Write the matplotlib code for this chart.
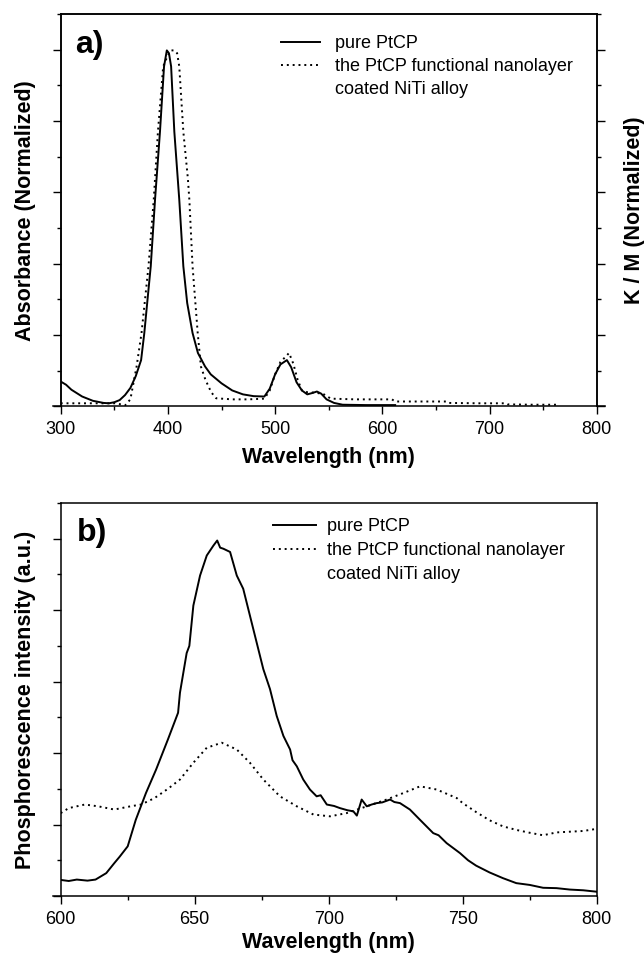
import matplotlib
matplotlib.use("Agg")
import matplotlib.pyplot as plt
from matplotlib.lines import Line2D
from matplotlib.ticker import MultipleLocator

plt.rcParams['font.family'] = ['Liberation Sans', 'DejaVu Sans']

# ---- panel a: absorbance / K-M spectra ----
wl_a_pure = [300, 305, 310, 320, 330, 340, 345, 350, 355, 360, 365, 370, 375, 378, 381, 384,
             388, 392.6, 396.4, 399, 401, 403, 406, 410.6, 414.4, 418, 423, 428, 434.7, 440,
             450, 460, 470, 480, 490, 495, 500, 505, 511, 515, 520, 525, 530, 535, 539, 543,
             548, 555, 563, 585, 612]
abs_a_pure = [0.070, 0.061, 0.047, 0.028, 0.016, 0.010, 0.009, 0.012, 0.018, 0.032, 0.052, 0.085,
              0.130, 0.206, 0.300, 0.393, 0.580, 0.770, 0.953, 0.998, 0.990, 0.953, 0.770, 0.580,
              0.393, 0.290, 0.206, 0.150, 0.112, 0.090, 0.065, 0.045, 0.034, 0.029, 0.028, 0.050,
              0.090, 0.118, 0.130, 0.110, 0.068, 0.045, 0.034, 0.038, 0.042, 0.036, 0.020, 0.010,
              0.005, 0.004, 0.004]

wl_a_layer = [300, 320, 345, 352, 360, 365, 370.8, 375.4, 381.9, 386.8, 390.7, 395.6, 400, 403,
              406, 408.6, 410.6, 414.4, 418.6, 420, 423, 427.8, 430.8, 435, 440.4, 445, 460, 475,
              490, 495, 500, 505, 510, 513, 517, 521, 525, 530, 537, 545, 552, 575, 609, 612, 640,
              660, 662, 690, 715, 717, 740, 765]
abs_a_layer = [0.009, 0.009, 0.009, 0.009, 0.003, 0.020, 0.112, 0.206, 0.393, 0.580, 0.770, 0.953,
               0.985, 0.998, 0.998, 0.990, 0.953, 0.770, 0.640, 0.580, 0.393, 0.206, 0.112, 0.075,
               0.040, 0.023, 0.020, 0.020, 0.022, 0.045, 0.090, 0.125, 0.140, 0.150, 0.120, 0.075,
               0.045, 0.040, 0.039, 0.035, 0.022, 0.020, 0.020, 0.014, 0.014, 0.014, 0.010, 0.009,
               0.009, 0.006, 0.005, 0.005]

# ---- panel b: phosphorescence spectra ----
wl_b_pure = [600, 603, 606, 610, 613, 617, 620, 622, 625, 628, 631.8, 635.6, 640, 643.8, 644.5,
             647, 648, 649.5, 652, 654.5, 657, 658.4, 659.5, 660.7, 663.2, 665.7, 668.1, 670.6,
             673.1, 675.6, 678.1, 680.6, 683.1, 685.6, 686.5, 688.1, 690.5, 693, 695.5, 697,
             699.3, 702, 704.2, 707, 709.2, 710.5, 712.3, 714.2, 716, 717.9, 720, 722.9, 724.5,
             726.6, 730.3, 734.1, 739, 741, 744, 749, 752, 755, 760, 765, 770, 775, 780, 785,
             790, 795, 800]
int_b_pure = [0.045, 0.042, 0.046, 0.043, 0.046, 0.064, 0.092, 0.110, 0.139, 0.213, 0.288, 0.354,
              0.438, 0.513, 0.569, 0.680, 0.700, 0.813, 0.897, 0.953, 0.981, 0.995, 0.975, 0.972,
              0.963, 0.897, 0.860, 0.785, 0.710, 0.635, 0.579, 0.504, 0.448, 0.410, 0.380, 0.363,
              0.326, 0.298, 0.279, 0.282, 0.256, 0.252, 0.246, 0.240, 0.237, 0.225, 0.270, 0.251,
              0.256, 0.260, 0.262, 0.270, 0.263, 0.260, 0.242, 0.213, 0.176, 0.170, 0.148, 0.120,
              0.100, 0.085, 0.066, 0.050, 0.036, 0.031, 0.023, 0.022, 0.018, 0.016, 0.012]

wl_b_layer = [600, 603, 609, 614, 620, 626, 630, 635, 640, 644.5, 649.5, 654.5, 660.1, 665.7,
              670.6, 675.6, 681.8, 688.1, 694.3, 700.5, 706.7, 714.2, 721.6, 727.8, 734.1, 740.3,
              747.8, 750, 755, 760, 765, 770, 775, 780, 785, 790, 795, 800]
int_b_layer = [0.232, 0.246, 0.256, 0.251, 0.242, 0.251, 0.256, 0.274, 0.300, 0.326, 0.373, 0.415,
               0.429, 0.410, 0.373, 0.326, 0.279, 0.251, 0.228, 0.223, 0.232, 0.251, 0.270, 0.288,
               0.307, 0.298, 0.274, 0.260, 0.235, 0.212, 0.195, 0.185, 0.177, 0.170, 0.178, 0.180,
               0.182, 0.188]

legend_labels = ["pure PtCP", "the PtCP functional nanolayer", "coated NiTi alloy"]

LW = 1.4
DOT = (0, (1, 2))

fig = plt.figure(figsize=(6.44, 9.55), dpi=100)
W, H = 644.0, 955.0
ax_a = fig.add_axes([60.7 / W, 1 - 406.5 / H, 536 / W, 392.5 / H])
ax_b = fig.add_axes([60.7 / W, 1 - 896 / H, 536 / W, 393 / H])

ax_a.plot(wl_a_pure, abs_a_pure, color="black", lw=LW)
ax_a.plot(wl_a_layer, abs_a_layer, color="black", lw=LW, linestyle=DOT)
ax_b.plot(wl_b_pure, int_b_pure, color="black", lw=LW)
ax_b.plot(wl_b_layer, int_b_layer, color="black", lw=LW, linestyle=DOT)

ax_a.set_xlim(300, 800)
ax_b.set_xlim(600, 800)
for ax in (ax_a, ax_b):
    ax.set_ylim(0, 1.1)
    ax.yaxis.set_major_locator(MultipleLocator(0.2))
    ax.yaxis.set_minor_locator(MultipleLocator(0.1))
    ax.tick_params(which="both", direction="out", top=False, right=False,
                   labelleft=False, width=1, labelsize=13, pad=5)
    ax.tick_params(which="major", length=5.5)
    ax.tick_params(which="minor", length=3)
    for s in ax.spines.values():
        s.set_linewidth(1.1)

ax_a.set_xlabel("Wavelength (nm)", fontsize=15.5, fontweight="bold", labelpad=6.5)
ax_b.set_xlabel("Wavelength (nm)", fontsize=15.5, fontweight="bold", labelpad=3)

ax_a.xaxis.set_major_locator(MultipleLocator(100))
ax_a.xaxis.set_minor_locator(MultipleLocator(50))
ax_b.xaxis.set_major_locator(MultipleLocator(50))
ax_b.xaxis.set_minor_locator(MultipleLocator(25))

# bottom axis line runs a little past the frame, as in the original
ax_a.spines["bottom"].set_bounds(292.5, 808)
ax_b.spines["bottom"].set_bounds(597, 800)

ax_a.set_ylabel("Absorbance (Normalized)", fontsize=15.5, fontweight="bold", labelpad=12)
ax_b.set_ylabel("Phosphorescence intensity (a.u.)", fontsize=15.5, fontweight="bold", labelpad=12)

# right axis of panel a
ax_ar = ax_a.twinx()
ax_ar.set_ylim(0, 1.1)
ax_ar.yaxis.set_major_locator(MultipleLocator(0.2))
ax_ar.yaxis.set_minor_locator(MultipleLocator(0.1))
ax_ar.tick_params(which="both", direction="out", labelright=False, width=1)
ax_ar.tick_params(which="major", length=5.5)
ax_ar.tick_params(which="minor", length=3)
for s in ax_ar.spines.values():
    s.set_linewidth(1.1)
ax_ar.spines["bottom"].set_visible(False)
ax_ar.set_ylabel("K / M (Normalized)", fontsize=15.5, fontweight="bold", labelpad=14)

ax_a.text(0.027, 0.921, "a)", transform=ax_a.transAxes, fontsize=23,
          fontweight="bold", va="center", ha="left")
ax_b.text(0.030, 0.924, "b)", transform=ax_b.transAxes, fontsize=23,
          fontweight="bold", va="center", ha="left")

handles = [Line2D([], [], color="black", lw=LW),
           Line2D([], [], color="black", lw=LW, linestyle=DOT),
           Line2D([], [], linestyle="none")]

ax_a.legend(handles, legend_labels, loc="upper left", bbox_to_anchor=(0.411, 0.946),
            frameon=False, fontsize=13, handlelength=2.15, handletextpad=0.83,
            labelspacing=0.33, borderpad=0, borderaxespad=0)
ax_b.legend(handles, legend_labels, loc="upper left", bbox_to_anchor=(0.396, 0.961),
            frameon=False, fontsize=13, handlelength=2.4, handletextpad=0.6,
            labelspacing=0.38, borderpad=0, borderaxespad=0)

fig.savefig("out.png", dpi=100)
